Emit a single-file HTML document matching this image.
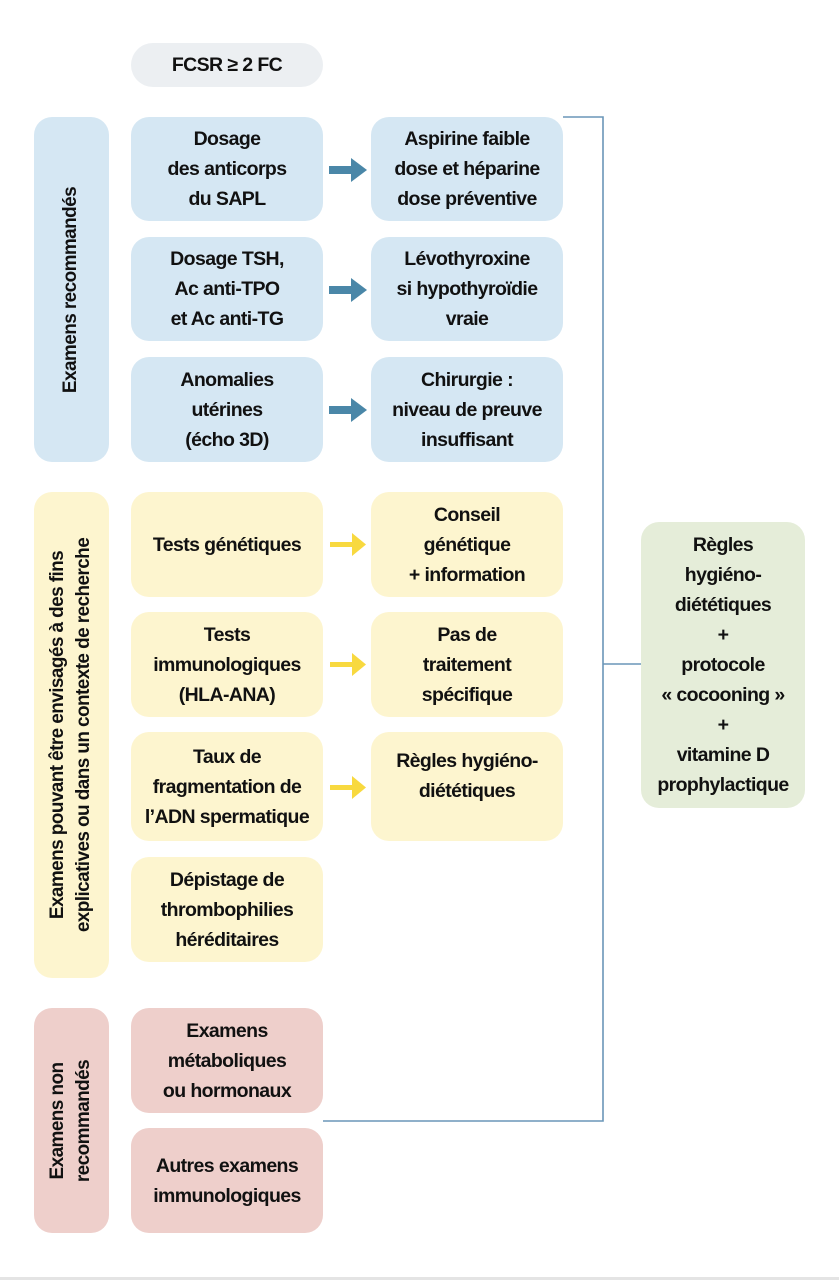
<!DOCTYPE html>
<html><head><meta charset="utf-8"><style>
body{margin:0;width:839px;height:1280px;background:#fff;position:relative;overflow:hidden;font-family:"Liberation Sans Narrow","Liberation Sans",sans-serif;color:#111}
.b{position:absolute;border-radius:18px;display:flex;align-items:center;justify-content:center;text-align:center;font-size:19.5px;line-height:30px;letter-spacing:-0.6px;font-weight:bold}
.bl{background:#d5e7f3}.ye{background:#fdf5cf}.pk{background:#eecfcb}
.v{position:absolute;display:flex;align-items:center;justify-content:center}
.v span{transform:rotate(-90deg);white-space:nowrap;text-align:center;font-size:19px;line-height:26px;letter-spacing:-0.6px;font-weight:bold}
.ln{position:absolute;background:#6a96b8}
</style></head><body>
<div class="b" style="left:131px;top:43px;width:192px;height:44px;background:#eceff2;border-radius:22px">FCSR ≥ 2 FC</div>

<div class="v b bl" style="left:34px;top:117px;width:75px;height:345px"><span>Examens recommandés</span></div>
<div class="v b ye" style="left:34px;top:492px;width:75px;height:486px"><span>Examens pouvant être envisagés à des fins<br>explicatives ou dans un contexte de recherche</span></div>
<div class="v b pk" style="left:34px;top:1008px;width:75px;height:225px"><span>Examens non<br>recommandés</span></div>

<div class="b bl" style="left:131px;top:117px;width:192px;height:104px">Dosage<br>des anticorps<br>du SAPL</div>
<div class="b bl" style="left:131px;top:237px;width:192px;height:104px">Dosage TSH,<br>Ac anti-TPO<br>et Ac anti-TG</div>
<div class="b bl" style="left:131px;top:357px;width:192px;height:105px">Anomalies<br>utérines<br>(écho 3D)</div>
<div class="b ye" style="left:131px;top:492px;width:192px;height:105px">Tests génétiques</div>
<div class="b ye" style="left:131px;top:612px;width:192px;height:105px">Tests<br>immunologiques<br>(HLA-ANA)</div>
<div class="b ye" style="left:131px;top:732px;width:192px;height:109px">Taux de<br>fragmentation de<br>l’ADN spermatique</div>
<div class="b ye" style="left:131px;top:857px;width:192px;height:105px">Dépistage de<br>thrombophilies<br>héréditaires</div>
<div class="b pk" style="left:131px;top:1008px;width:192px;height:105px">Examens<br>métaboliques<br>ou hormonaux</div>
<div class="b pk" style="left:131px;top:1128px;width:192px;height:105px">Autres examens<br>immunologiques</div>

<div class="b bl" style="left:371px;top:117px;width:192px;height:104px">Aspirine faible<br>dose et héparine<br>dose préventive</div>
<div class="b bl" style="left:371px;top:237px;width:192px;height:104px">Lévothyroxine<br>si hypothyroïdie<br>vraie</div>
<div class="b bl" style="left:371px;top:357px;width:192px;height:105px">Chirurgie :<br>niveau de preuve<br>insuffisant</div>
<div class="b ye" style="left:371px;top:492px;width:192px;height:105px">Conseil<br>génétique<br>+ information</div>
<div class="b ye" style="left:371px;top:612px;width:192px;height:105px">Pas de<br>traitement<br>spécifique</div>
<div class="b ye" style="left:371px;top:732px;width:192px;height:109px;align-items:flex-start;padding-top:0"><div style="margin-top:14px">Règles hygiéno-<br>diététiques</div></div>

<div class="b" style="left:641px;top:522px;width:164px;height:286px;background:#e5edd9">Règles<br>hygiéno-<br>diététiques<br>+<br>protocole<br>« cocooning »<br>+<br>vitamine D<br>prophylactique</div>

<svg style="position:absolute;left:0;top:0" width="839" height="1280">
<g fill="#4a87a8">
<rect x="329" y="166" width="24" height="8"/><polygon points="351,158 367,170 351,182"/>
<rect x="329" y="286" width="24" height="8"/><polygon points="351,278 367,290 351,302"/>
<rect x="329" y="406" width="24" height="8"/><polygon points="351,398 367,410 351,422"/>
</g>
<g fill="#f8d93f">
<rect x="330" y="542" width="24" height="5"/><polygon points="352,533 366,544.5 352,556"/>
<rect x="330" y="662" width="24" height="5"/><polygon points="352,653 366,664.5 352,676"/>
<rect x="330" y="785" width="24" height="5"/><polygon points="352,776 366,787.5 352,799"/>
</g>
<g stroke="#6a96b8" stroke-width="1.6" fill="none">
<polyline points="563,117 603,117 603,1121 323,1121"/>
<line x1="603" y1="664" x2="641" y2="664"/>
</g>
<rect x="0" y="1277" width="839" height="3" fill="#e4e4e4"/>
</svg>
</body></html>
